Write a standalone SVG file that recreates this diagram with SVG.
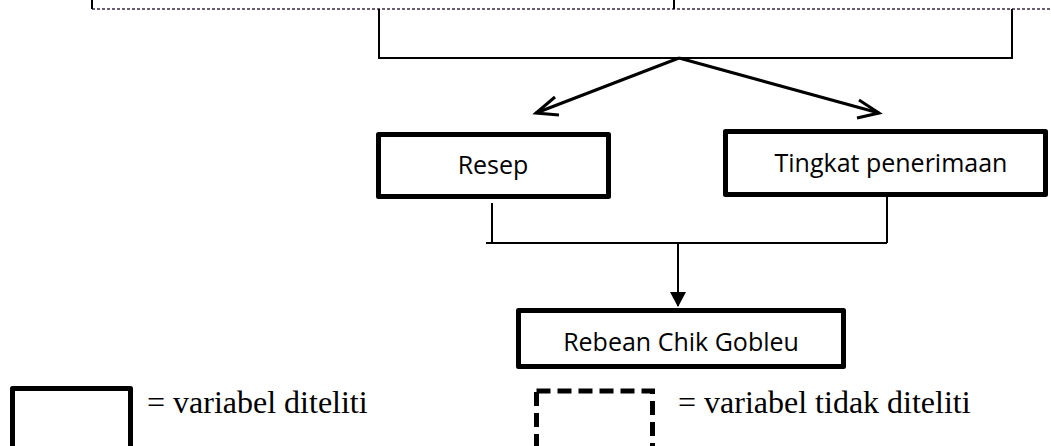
<svg xmlns="http://www.w3.org/2000/svg" width="1051" height="446" viewBox="0 0 1051 446">
<defs>
<style>
.box{fill:#fff;stroke:#000;stroke-width:5;stroke-linejoin:round}
.dbox{fill:#fff;stroke:#000;stroke-width:5;stroke-dasharray:14,7}
.ln{fill:none;stroke:#000;stroke-width:2}
.arr{fill:none;stroke:#000;stroke-width:3}
.dot{fill:none;stroke:#3a2a44;stroke-width:1.5;stroke-dasharray:3,2}
.lbl{font-family:"Open Sans",sans-serif;font-size:25px;fill:#000;text-anchor:middle}
.leg{font-family:"Liberation Serif",serif;font-size:32px;fill:#000}
</style>
<marker id="tri" markerWidth="16" markerHeight="16" refX="14" refY="8" orient="auto" markerUnits="userSpaceOnUse">
<path d="M0,0 L15,8 L0,16 Z" fill="#000"/>
</marker>
</defs>
<rect width="1051" height="446" fill="#fff"/>
<g id="connectors">
<line class="dot" x1="92" y1="9" x2="1051" y2="9"/>
<line class="ln" x1="92" y1="0" x2="92" y2="9"/>
<line class="ln" x1="674" y1="0" x2="674" y2="9"/>
<polyline class="ln" points="379,9 379,58 1012,58 1012,9"/>
<line class="arr" x1="679" y1="58" x2="536" y2="113"/>
<polyline class="arr" points="555,97 536,113 559,115"/>
<line class="arr" x1="679" y1="58" x2="879" y2="113"/>
<polyline class="arr" points="859,100 879,113 857,118"/>
<polyline class="ln" points="492,203 492,243"/>
<polyline class="ln" points="887,197 887,243"/>
<line class="ln" x1="486" y1="243" x2="887" y2="243"/>
<line class="ln" x1="678" y1="244" x2="678" y2="306" marker-end="url(#tri)"/>
</g>
<g id="node-resep">
<rect class="box" x="378.5" y="134.5" width="230" height="62"/>
<text class="lbl" x="493" y="174">Resep</text>
</g>
<g id="node-tingkat">
<rect class="box" x="725.5" y="131.5" width="320" height="63"/>
<text class="lbl" x="891" y="172">Tingkat penerimaan</text>
</g>
<g id="node-rebean">
<rect class="box" x="518.5" y="310.5" width="325" height="56"/>
<text class="lbl" x="681" y="351">Rebean Chik Gobleu</text>
</g>
<g id="legend-solid">
<rect class="box" x="12.5" y="388.5" width="118" height="70"/>
<text class="leg" x="147" y="413">= variabel diteliti</text>
</g>
<g id="legend-dashed">
<rect class="dbox" x="536.5" y="391" width="116" height="70"/>
<text class="leg" x="678" y="413">= variabel tidak diteliti</text>
</g>
</svg>
